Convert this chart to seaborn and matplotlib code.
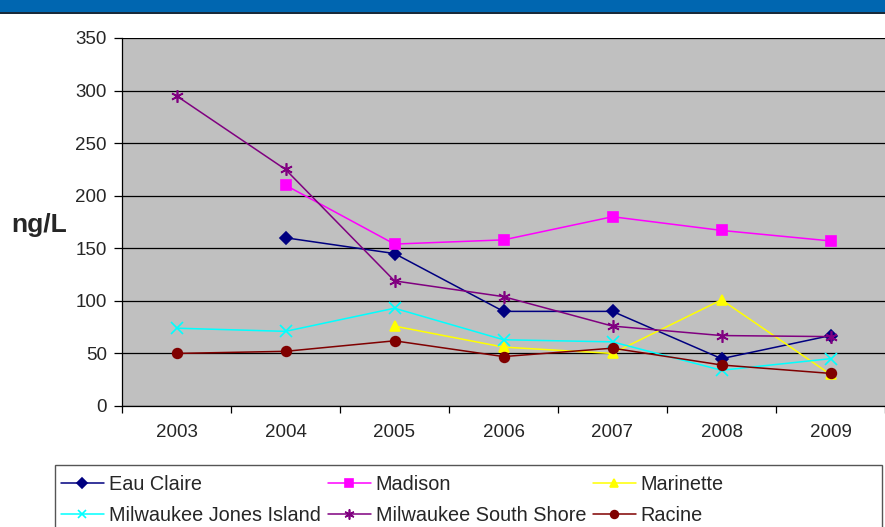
import numpy as np
import pandas as pd
import matplotlib
matplotlib.use("Agg")
import matplotlib.pyplot as plt
import seaborn as sns
from matplotlib.patches import Rectangle

# --- datos ---
years = ['2003', '2004', '2005', '2006', '2007', '2008', '2009']
eau_claire = [np.nan, 160, 145, 90, 90, 45, 67]
madison = [np.nan, 210, 154, 158, 180, 167, 157]
marinette = [np.nan, np.nan, 76, 56, 50, 101, 30]
jones_island = [74, 71, 93, 63, 61, 34, 45]
south_shore = [295, 225, 119, 104, 76, 67, 66]
racine = [50, 52, 62, 47, 55, 39, 31]

series = {
    'Eau Claire': eau_claire,
    'Madison': madison,
    'Marinette': marinette,
    'Milwaukee Jones Island': jones_island,
    'Milwaukee South Shore': south_shore,
    'Racine': racine,
}
colores = {
    'Eau Claire': '#000080',
    'Madison': '#FF00FF',
    'Marinette': '#FFFF00',
    'Milwaukee Jones Island': '#00FFFF',
    'Milwaukee South Shore': '#800080',
    'Racine': '#800000',
}
marcadores = {
    'Eau Claire': 'D',
    'Madison': 's',
    'Marinette': '^',
    'Milwaukee Jones Island': 'x',
    'Milwaukee South Shore': (6, 2, 0),
    'Racine': 'o',
}
tamanos = {
    'Eau Claire': 6,
    'Madison': 7,
    'Marinette': 7.5,
    'Milwaukee Jones Island': 8,
    'Milwaukee South Shore': 9,
    'Racine': 7,
}

filas = []
for nombre, vals in series.items():
    for i, v in enumerate(vals):
        filas.append({'pos': i, 'Value': v, 'Site': nombre})
df = pd.DataFrame(filas).dropna()

sns.set_style('white')
plt.rcParams['font.family'] = ['Liberation Sans', 'DejaVu Sans']

fig = plt.figure(figsize=(8.85, 5.27), dpi=100)
ax = fig.add_axes([122 / 885, 1 - 406 / 527, 1 - 122 / 885, 368 / 527])

lineas = []
for nombre in series:
    sub = df[df['Site'] == nombre]
    sns.lineplot(data=sub, x='pos', y='Value', color=colores[nombre],
                 marker=marcadores[nombre], markersize=tamanos[nombre], linewidth=1.1,
                 sort=False, ax=ax, label=nombre, legend=False)
    ln = ax.get_lines()[-1]
    ln.set_markeredgecolor(colores[nombre])
    ln.set_markerfacecolor(colores[nombre])
    ln.set_markeredgewidth(1.2)
    lineas.append(ln)

ax.set_facecolor('#C0C0C0')
ax.set_xlim(-0.5, 6.5)
ax.set_ylim(0, 350)
ax.set_yticks(range(0, 351, 50))
ax.yaxis.grid(True, color='black', linewidth=0.9)
ax.xaxis.grid(False)
ax.set_axisbelow(True)
ax.set_xticks(range(7))
ax.set_xticklabels(years)
ax.set_xticks(np.arange(-0.5, 7, 1), minor=True)
ax.tick_params(axis='x', which='major', length=0, labelsize=13.5, pad=13)
ax.tick_params(axis='x', which='minor', length=5, width=0.9, color='black',
               direction='out', bottom=True)
ax.tick_params(axis='y', length=6, width=0.9, color='black', direction='out',
               labelsize=13.5, pad=5, left=True)
for lado in ['top', 'right']:
    ax.spines[lado].set_visible(False)
for lado in ['left', 'bottom']:
    ax.spines[lado].set_color('black')
    ax.spines[lado].set_linewidth(0.9)
ax.set_xlabel('')
ax.set_ylabel('')
fig.text(39 / 885, 1 - 225 / 527, 'ng/L', fontsize=19, fontweight='bold',
         ha='center', va='center')

# banda azul superior
fig.patches.append(Rectangle((0, 1 - 12 / 527), 1, 12 / 527, transform=fig.transFigure,
                             facecolor='#0066B0', edgecolor='none'))
fig.patches.append(Rectangle((0, 1 - 14 / 527), 1, 2 / 527, transform=fig.transFigure,
                             facecolor='#1a2a3a', edgecolor='none'))

# marco de la leyenda
fig.patches.append(Rectangle((55 / 885, -0.1), 827 / 885, 0.1 + 1 - 465 / 527,
                             transform=fig.transFigure, facecolor='white',
                             edgecolor='#555555', linewidth=1.0))

# leyenda
nombres = list(series.keys())
orden = [0, 3, 1, 4, 2, 5]
leg = fig.legend([lineas[i] for i in orden], [nombres[i] for i in orden],
                 ncol=3, loc='upper left', bbox_to_anchor=(61 / 885, 1 - 475 / 527),
                 frameon=False, fontsize=14.3, handlelength=2.16, handletextpad=0.25,
                 borderpad=0, labelspacing=0.6, columnspacing=0.35, borderaxespad=0,
                 markerscale=0.8)

fig.savefig('out.png', dpi=100)
